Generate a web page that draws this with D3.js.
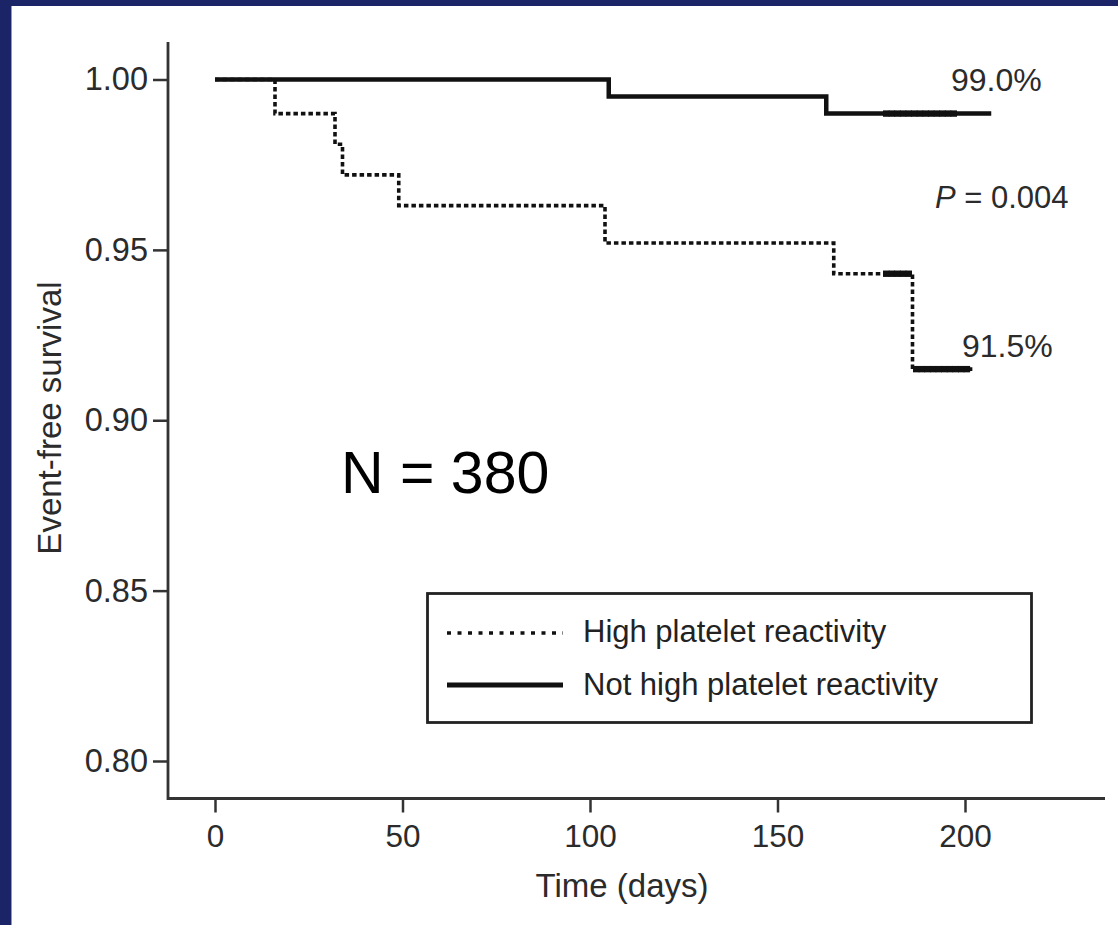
<!DOCTYPE html>
<html>
<head>
<meta charset="utf-8">
<script src="https://cdn.jsdelivr.net/npm/d3@7"></script>
<style>
  html, body { margin: 0; padding: 0; background: #1b2466; }
  svg { display: block; }
  text { font-family: "Liberation Sans", Arial, Helvetica, sans-serif; }
</style>
</head>
<body>
<script>
// ---- data ----
const xTicks = [0, 50, 100, 150, 200];
const yTicks = [0.80, 0.85, 0.90, 0.95, 1.00];
const yTickLabels = ["0.80", "0.85", "0.90", "0.95", "1.00"];

// Not high platelet reactivity (solid)
const notHprDays = [0, 105, 163, 207];
const notHprSurv = [1.000, 0.995, 0.990, 0.990];
const notHprCensorDays = [179, 180.5, 182, 183.5, 185, 186.5, 188, 189.5, 191, 192.5, 194, 195.5, 197];
const notHprCensorSurv = [0.990, 0.990, 0.990, 0.990, 0.990, 0.990, 0.990, 0.990, 0.990, 0.990, 0.990, 0.990, 0.990];

// High platelet reactivity (dotted)
const hprDays = [0, 16, 32, 34, 49, 104, 165, 186, 202];
const hprSurv = [1.000, 0.990, 0.981, 0.972, 0.963, 0.952, 0.943, 0.915, 0.915];
const hprCensorDays = [179, 180.5, 182, 183.5, 185, 187, 188.5, 190, 191.5, 193, 194.5, 196, 197.5, 199, 200.5];
const hprCensorSurv = [0.943, 0.943, 0.943, 0.943, 0.943, 0.915, 0.915, 0.915, 0.915, 0.915, 0.915, 0.915, 0.915, 0.915, 0.915];

const seriesNames = ["High platelet reactivity", "Not high platelet reactivity"];
const endLabels = ["99.0%", "91.5%"];
const pValue = "= 0.004";
const sampleText = "N = 380";
const xTitle = "Time (days)";
const yTitle = "Event-free survival";

// ---- layout ----
const W = 1118, H = 925;
const svg = d3.select("body").append("svg").attr("width", W).attr("height", H);

// navy frame + white panel
svg.append("rect").attr("x", 0).attr("y", 0).attr("width", W).attr("height", H).attr("fill", "#1b2466");
svg.append("rect").attr("x", 11).attr("y", 6).attr("width", W - 11).attr("height", H - 6).attr("fill", "#ffffff");
svg.append("line").attr("x1", 11.5).attr("x2", 11.5).attr("y1", 6).attr("y2", H).attr("stroke", "#9a9a9a").attr("stroke-width", 1);

const x = d3.scaleLinear().domain([0, 200]).range([215, 965]);
const y = d3.scaleLinear().domain([0.80, 1.00]).range([761, 79.5]);

const axisColor = "#333";
const labelColor = "#2b2b2b";
const xAxisY = 798.5, yAxisX = 168;

// x axis
const gx = svg.append("g").attr("transform", `translate(0,${xAxisY})`)
  .call(d3.axisBottom(x).tickValues(xTicks).tickSize(14).tickPadding(12).tickFormat(d3.format("d")));
gx.select(".domain").remove();
gx.selectAll(".tick line").attr("stroke", axisColor).attr("stroke-width", 2.5);
gx.selectAll(".tick text").attr("font-size", 31.5).attr("fill", labelColor)
  .attr("font-family", "Liberation Sans, Arial, sans-serif");

// y axis
const gy = svg.append("g").attr("transform", `translate(${yAxisX},0)`)
  .call(d3.axisLeft(y).tickValues(yTicks).tickSize(15).tickPadding(5)
    .tickFormat((d, i) => yTickLabels[i]));
gy.select(".domain").remove();
gy.selectAll(".tick line").attr("stroke", axisColor).attr("stroke-width", 2.5);
gy.selectAll(".tick text").attr("font-size", 32.5).attr("fill", labelColor)
  .attr("font-family", "Liberation Sans, Arial, sans-serif");

// L-shaped axis lines
svg.append("path")
  .attr("d", `M${yAxisX},42 L${yAxisX},${xAxisY} L1105,${xAxisY}`)
  .attr("fill", "none").attr("stroke", axisColor).attr("stroke-width", 2.8);

// axis titles
svg.append("text").attr("x", 622).attr("y", 897).attr("text-anchor", "middle")
  .attr("font-size", 33).attr("fill", labelColor).text(xTitle);
svg.append("text").attr("transform", "translate(61,418) rotate(-90)").attr("text-anchor", "middle")
  .attr("font-size", 33).attr("fill", labelColor).text(yTitle);

// curves
const line = d3.line().x(d => x(d[0])).y(d => y(d[1])).curve(d3.curveStepAfter);
const notHpr = notHprDays.map((d, i) => [d, notHprSurv[i]]);
const hpr = hprDays.map((d, i) => [d, hprSurv[i]]);

svg.append("path").datum(hpr).attr("d", line)
  .attr("fill", "none").attr("stroke", "#111").attr("stroke-width", 3.6)
  .attr("stroke-dasharray", "4.5,3");
svg.append("path").datum(notHpr).attr("d", line)
  .attr("fill", "none").attr("stroke", "#111").attr("stroke-width", 4.5);

// censor marks
function censor(days, surv) {
  svg.append("g").selectAll("line").data(days.map((d, i) => [d, surv[i]])).join("line")
    .attr("x1", d => x(d[0])).attr("x2", d => x(d[0]))
    .attr("y1", d => y(d[1]) - 3.2).attr("y2", d => y(d[1]) + 3.2)
    .attr("stroke", "#111").attr("stroke-width", 6.5);
}
censor(notHprCensorDays, notHprCensorSurv);
censor(hprCensorDays, hprCensorSurv);

// annotations
svg.append("text").attr("x", 951).attr("y", 91).attr("font-size", 32).attr("fill", labelColor).text(endLabels[0]);
svg.append("text").attr("x", 962).attr("y", 357).attr("font-size", 32).attr("fill", labelColor).text(endLabels[1]);
const pt = svg.append("text").attr("x", 935).attr("y", 208).attr("font-size", 31).attr("fill", labelColor);
pt.append("tspan").attr("font-style", "italic").text("P");
pt.append("tspan").text(" " + pValue);

svg.append("text").attr("x", 341).attr("y", 493).attr("font-size", 59).attr("fill", "#000").text(sampleText);

// legend
svg.append("rect").attr("x", 427.5).attr("y", 593.5).attr("width", 604).attr("height", 129)
  .attr("fill", "#fff").attr("stroke", "#222").attr("stroke-width", 2.8);
svg.append("line").attr("x1", 447).attr("x2", 563).attr("y1", 633).attr("y2", 633)
  .attr("stroke", "#111").attr("stroke-width", 3.5).attr("stroke-dasharray", "4,6.5");
svg.append("line").attr("x1", 447).attr("x2", 563).attr("y1", 685).attr("y2", 685)
  .attr("stroke", "#111").attr("stroke-width", 5);
svg.append("text").attr("x", 583).attr("y", 642).attr("font-size", 31).attr("fill", "#222").text(seriesNames[0]);
svg.append("text").attr("x", 583).attr("y", 695).attr("font-size", 31).attr("fill", "#222").text(seriesNames[1]);
</script>
</body>
</html>
